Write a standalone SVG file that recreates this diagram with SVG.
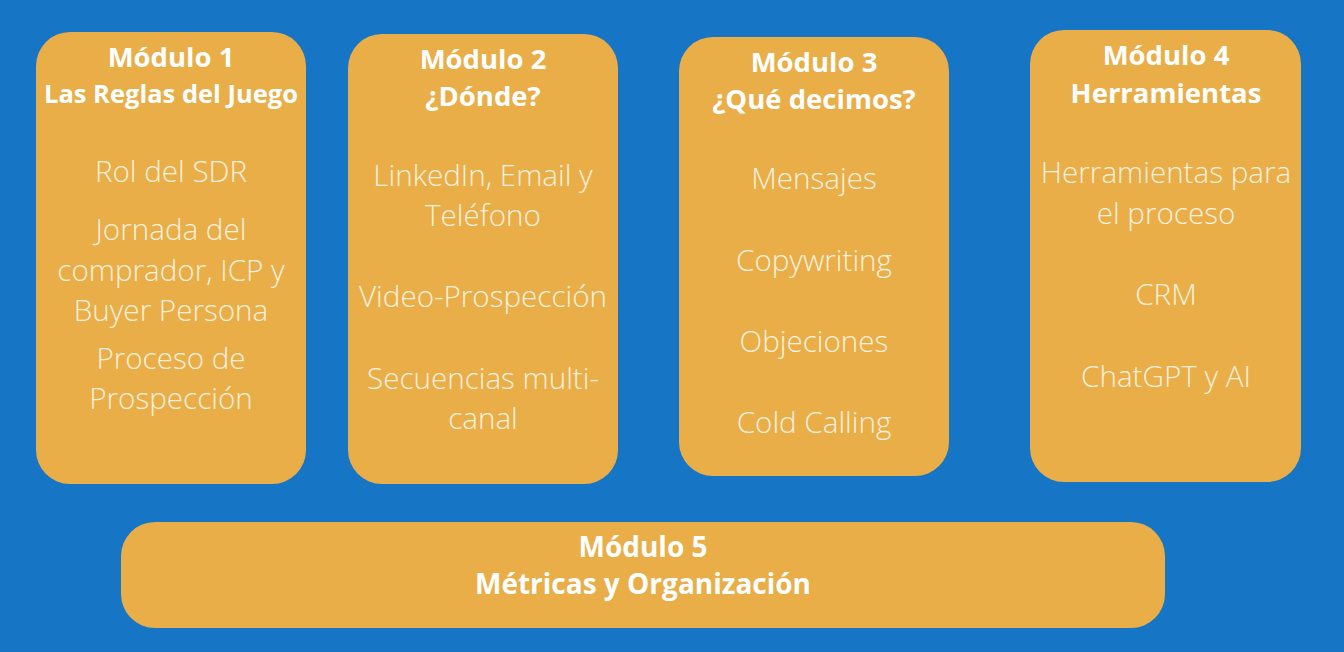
<svg xmlns="http://www.w3.org/2000/svg" width="1344" height="652" viewBox="0 0 1344 652">
<style>
.box{fill:#E9AE48}
.t{font-family:"Open Sans","Liberation Sans",sans-serif;font-weight:700;font-size:27.5px;fill:#FFFFFF;text-anchor:middle}
.i{font-family:"Open Sans","Liberation Sans",sans-serif;font-weight:300;font-size:29.6px;fill:#FCF1DF;text-anchor:middle}
</style>
<rect width="1344" height="652" fill="#1675C5"/>
<g id="modulo1">
<rect class="box" x="36" y="32" width="270" height="452" rx="34"/>
<text class="t" x="171" y="67">Módulo 1</text>
<text class="t" x="171" y="103" style="font-size:25.5px">Las Reglas del Juego</text>
<text class="i" x="171" y="182">Rol del SDR</text>
<text class="i" x="171" y="240">Jornada del</text>
<text class="i" x="171" y="281">comprador, ICP y</text>
<text class="i" x="171" y="321">Buyer Persona</text>
<text class="i" x="171" y="369">Proceso de</text>
<text class="i" x="171" y="409">Prospección</text>
</g>
<g id="modulo2">
<rect class="box" x="348" y="34" width="270" height="450" rx="34"/>
<text class="t" x="483" y="69">Módulo 2</text>
<text class="t" x="483" y="106">¿Dónde?</text>
<text class="i" x="483" y="186">LinkedIn, Email y</text>
<text class="i" x="483" y="226">Teléfono</text>
<text class="i" x="483" y="307">Video-Prospección</text>
<text class="i" x="483" y="389">Secuencias multi-</text>
<text class="i" x="483" y="429">canal</text>
</g>
<g id="modulo3">
<rect class="box" x="679" y="37" width="270" height="439" rx="34"/>
<text class="t" x="814" y="72">Módulo 3</text>
<text class="t" x="814" y="109">¿Qué decimos?</text>
<text class="i" x="814" y="189">Mensajes</text>
<text class="i" x="814" y="271">Copywriting</text>
<text class="i" x="814" y="352">Objeciones</text>
<text class="i" x="814" y="433">Cold Calling</text>
</g>
<g id="modulo4">
<rect class="box" x="1030" y="30" width="271" height="452" rx="34"/>
<text class="t" x="1166" y="65">Módulo 4</text>
<text class="t" x="1166" y="103">Herramientas</text>
<text class="i" x="1166" y="183">Herramientas para</text>
<text class="i" x="1166" y="224">el proceso</text>
<text class="i" x="1166" y="305">CRM</text>
<text class="i" x="1166" y="387">ChatGPT y AI</text>
</g>
<g id="modulo5">
<rect class="box" x="121" y="522" width="1044" height="106" rx="34"/>
<text class="t" x="643" y="557" style="font-size:28px">Módulo 5</text>
<text class="t" x="643" y="594" style="font-size:28px">Métricas y Organización</text>
</g>
<g id="connectors"/>
</svg>
